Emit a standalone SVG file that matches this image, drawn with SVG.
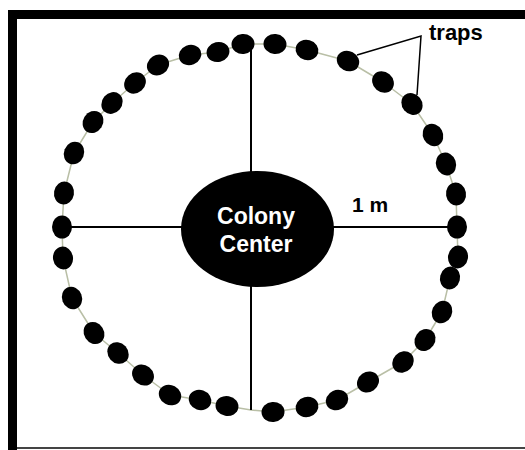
<svg xmlns="http://www.w3.org/2000/svg" width="525" height="450" viewBox="0 0 525 450">
<style>
.trap{fill:#000}
.spoke{stroke:#000;stroke-width:2;fill:none}
.lead{stroke:#000;stroke-width:1.5;fill:none}
.lbl{font-family:"Liberation Sans",Arial,sans-serif;font-weight:bold}
</style>
<defs>
<ellipse id="d" cx="0" cy="0" rx="10" ry="11.5"/>
</defs>
<rect x="0" y="0" width="525" height="450" fill="#fff"/>
<g id="frame">
<rect x="8" y="10" width="517" height="9" fill="#000"/>
<rect x="8" y="10" width="9" height="440" fill="#000"/>
<rect x="17" y="447" width="508" height="2" fill="#444"/>
</g>
<g id="connectors">
<polygon points="243,44 275,44 307,50 348,61 383,82 412,104 433,135 446,164 456,194 457,227 458,257 450,278 442,312 425,340 403,362 368,382 337,400 307,407 273,412 251,410 227,406 200,400 170,395 143,375 118,353 94,333 72,298 63,258 62,227 64,193 74,153 93,122 112,103 135,83 158,65 190,55 218,52" fill="none" stroke="#b9bfa6" stroke-width="1.5" stroke-linejoin="round"/>
<line class="spoke" x1="251" y1="44" x2="251" y2="410"/>
<line class="spoke" x1="62" y1="227" x2="457" y2="227"/>
<polyline class="lead" points="357,55 421,36 417,95"/>
</g>
<g id="traps" class="trap">
<use href="#d" transform="translate(243,44) rotate(-95.1)"/>
<use href="#d" transform="translate(275,44) rotate(-85.2)"/>
<use href="#d" transform="translate(307,50) rotate(-75)"/>
<use href="#d" transform="translate(348,61) rotate(-62)"/>
<use href="#d" transform="translate(383,82) rotate(-49.7)"/>
<use href="#d" transform="translate(412,104) rotate(-39)"/>
<use href="#d" transform="translate(433,135) rotate(-28.1)"/>
<use href="#d" transform="translate(446,164) rotate(-18.8)"/>
<use href="#d" transform="translate(456,194) rotate(-9.7)"/>
<use href="#d" transform="translate(457,227) rotate(0)"/>
<use href="#d" transform="translate(458,257) rotate(8.5)"/>
<use href="#d" transform="translate(450,278) rotate(14.8)"/>
<use href="#d" transform="translate(442,312) rotate(24.8)"/>
<use href="#d" transform="translate(425,340) rotate(34.2)"/>
<use href="#d" transform="translate(403,362) rotate(43.1)"/>
<use href="#d" transform="translate(368,382) rotate(54.9)"/>
<use href="#d" transform="translate(337,400) rotate(65.8)"/>
<use href="#d" transform="translate(307,407) rotate(75.2)"/>
<use href="#d" transform="translate(273,412) rotate(85.8)"/>
<use href="#d" transform="translate(227,406) rotate(100.3)"/>
<use href="#d" transform="translate(200,400) rotate(109)"/>
<use href="#d" transform="translate(170,395) rotate(118.1)"/>
<use href="#d" transform="translate(143,375) rotate(128.3)"/>
<use href="#d" transform="translate(118,353) rotate(138.4)"/>
<use href="#d" transform="translate(94,333) rotate(147.5)"/>
<use href="#d" transform="translate(72,298) rotate(159.4)"/>
<use href="#d" transform="translate(63,258) rotate(171.2)"/>
<use href="#d" transform="translate(62,227) rotate(180)"/>
<use href="#d" transform="translate(64,193) rotate(-170)"/>
<use href="#d" transform="translate(74,153) rotate(-158.1)"/>
<use href="#d" transform="translate(93,122) rotate(-147.6)"/>
<use href="#d" transform="translate(112,103) rotate(-139.8)"/>
<use href="#d" transform="translate(135,83) rotate(-130.8)"/>
<use href="#d" transform="translate(158,65) rotate(-122)"/>
<use href="#d" transform="translate(190,55) rotate(-112)"/>
<use href="#d" transform="translate(218,52) rotate(-103.3)"/>
</g>
<g id="colony-center">
<ellipse cx="257.5" cy="229" rx="76.5" ry="58" fill="#000"/>
<text class="lbl" x="256" y="224" font-size="23" fill="#fff" text-anchor="middle">Colony</text>
<text class="lbl" x="256" y="252" font-size="23" fill="#fff" text-anchor="middle">Center</text>
</g>
<g id="label-1m">
<text class="lbl" x="352" y="212" font-size="21" fill="#000">1 m</text>
</g>
<g id="label-traps">
<text class="lbl" x="429" y="40" font-size="22" fill="#000">traps</text>
</g>
</svg>
